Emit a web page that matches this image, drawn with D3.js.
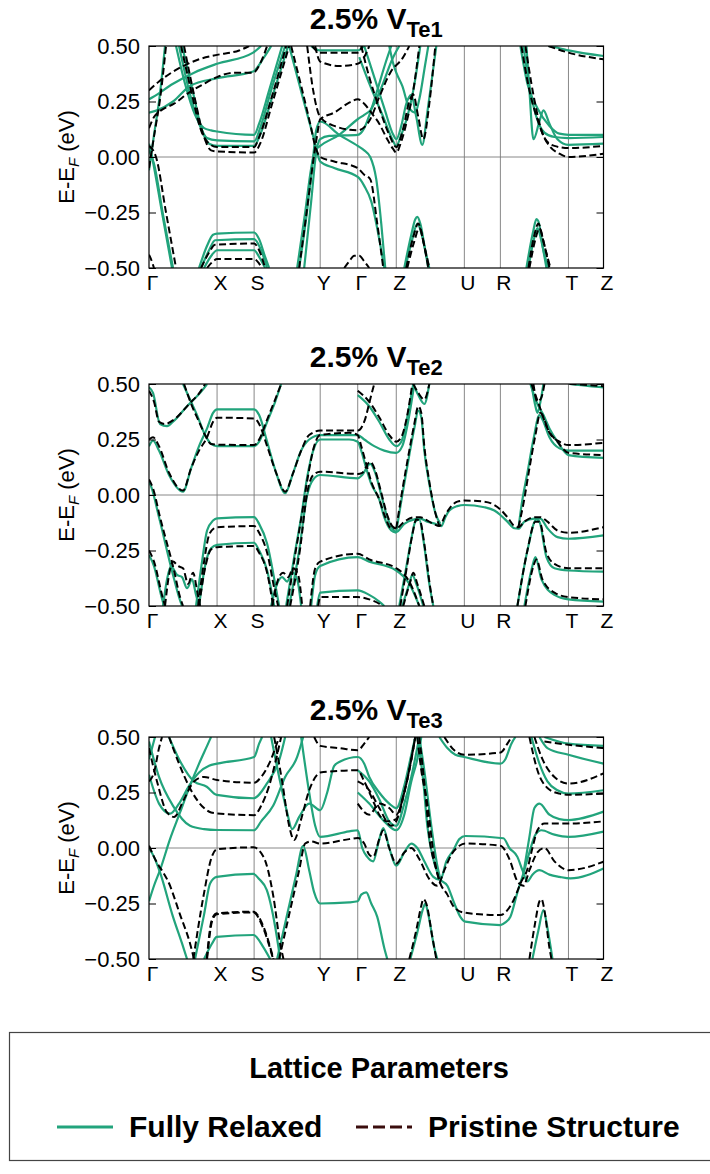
<!DOCTYPE html>
<html>
<head>
<meta charset="utf-8">
<script src="https://cdn.jsdelivr.net/npm/d3@7"></script>
<style>
  body { margin: 0; background: #fff; }
  svg { font-family: "Liberation Sans", Arial, Helvetica, sans-serif; }
</style>
</head>
<body>
<svg id="chart" width="710" height="1174"></svg>
<script>
// k-path (high symmetry points) and energy ticks
const kTicks  = [0, 0.68, 1.05, 1.71, 2.085, 2.47, 3.15, 3.51, 4.19, 4.54];
const kLabels = ["Γ", "X", "S", "Y", "Γ", "Z", "U", "R", "T", "Z"];
const eTicks  = [-0.5, -0.25, 0, 0.25, 0.5];
const panelSubs = ["Te1", "Te2", "Te3"];
const seriesNames = ["Fully Relaxed", "Pristine Structure"];

// bands: each band = [[k, E-EF], ...]
const relaxedVTe1 = [
  [[0,0.06],[0.03,0.0],[0.13,-0.25],[0.23,-0.5]],
  [[0,0.03],[0.05,-0.03],[0.14,-0.26],[0.24,-0.5]],
  [[0,-0.06],[0.05,0.1],[0.1,0.25],[0.16,0.5]],
  [[0,0.2],[0.08,0.21],[0.24,0.25],[0.41,0.32],[0.68,0.355],[1.04,0.385],[1.15,0.45],[1.22,0.5]],
  [[0,0.26],[0.04,0.27],[0.24,0.33],[0.45,0.38],[0.68,0.42],[1.04,0.47],[1.12,0.5]],
  [[0.27,0.5],[0.36,0.33],[0.46,0.19],[0.55,0.13],[0.62,0.12],[0.68,0.115],[1.05,0.1],[1.1,0.15],[1.2,0.3],[1.33,0.5]],
  [[0.3,0.5],[0.4,0.3],[0.5,0.15],[0.58,0.085],[0.68,0.075],[1.05,0.07],[1.11,0.13],[1.22,0.3],[1.36,0.5]],
  [[0.33,0.5],[0.43,0.31],[0.53,0.12],[0.6,0.06],[0.68,0.05],[1.05,0.05],[1.11,0.1],[1.23,0.27],[1.39,0.5]],
  [[0.5,-0.5],[0.58,-0.4],[0.64,-0.35],[0.68,-0.345],[1.05,-0.34],[1.1,-0.37],[1.16,-0.45],[1.2,-0.5]],
  [[0.52,-0.5],[0.6,-0.42],[0.66,-0.375],[1.05,-0.37],[1.12,-0.42],[1.18,-0.5]],
  [[0.55,-0.5],[0.63,-0.44],[0.68,-0.42],[1.05,-0.42],[1.1,-0.45],[1.16,-0.5]],
  [[1.4,0.5],[1.5,0.33],[1.6,0.16],[1.66,0.06],[1.71,-0.02],[1.85,-0.05],[2.085,-0.09],[2.15,-0.13],[2.22,-0.2],[2.3,-0.37],[2.35,-0.5]],
  [[1.48,-0.5],[1.56,-0.25],[1.62,-0.05],[1.66,0.03],[1.71,0.05],[1.9,0.1],[2.085,0.17],[2.15,0.19],[2.21,0.21],[2.31,0.3],[2.44,0.45],[2.5,0.5]],
  [[1.5,-0.5],[1.58,-0.24],[1.64,0.0],[1.67,0.12],[1.71,0.16],[1.9,0.1],[2.085,0.05],[2.15,0.03],[2.21,0.0],[2.27,-0.1],[2.32,-0.3],[2.36,-0.5]],
  [[1.55,-0.5],[1.62,-0.2],[1.67,0.02],[1.71,0.08],[1.8,0.095],[2.085,0.1],[2.15,0.13],[2.21,0.2],[2.28,0.3],[2.36,0.42],[2.42,0.5]],
  [[1.62,0.5],[1.71,0.48],[2.085,0.48],[2.15,0.5]],
  [[2.1,0.45],[2.21,0.32],[2.34,0.18],[2.43,0.08],[2.47,0.05],[2.52,0.1],[2.58,0.18],[2.64,0.3],[2.71,0.5]],
  [[2.15,0.5],[2.25,0.36],[2.35,0.22],[2.44,0.1],[2.47,0.08],[2.52,0.14],[2.57,0.24],[2.62,0.28],[2.67,0.18],[2.73,0.055],[2.78,0.2],[2.84,0.4],[2.87,0.5]],
  [[2.4,0.5],[2.44,0.42],[2.47,0.38],[2.53,0.32],[2.6,0.22],[2.66,0.2],[2.7,0.26],[2.76,0.42],[2.79,0.5]],
  [[2.55,-0.5],[2.62,-0.35],[2.66,-0.28],[2.68,-0.27],[2.71,-0.3],[2.76,-0.42],[2.8,-0.5]],
  [[2.56,-0.5],[2.63,-0.37],[2.68,-0.3],[2.73,-0.36],[2.79,-0.5]],
  [[3.77,-0.5],[3.84,-0.33],[3.87,-0.28],[3.89,-0.29],[3.94,-0.42],[3.99,-0.5]],
  [[3.79,-0.5],[3.85,-0.36],[3.88,-0.32],[3.92,-0.38],[3.97,-0.5]],
  [[3.71,0.5],[3.78,0.33],[3.88,0.22],[4.0,0.14],[4.1,0.105],[4.19,0.1],[4.54,0.1]],
  [[3.74,0.5],[3.8,0.32],[3.87,0.18],[3.95,0.11],[4.05,0.09],[4.19,0.085],[4.54,0.09]],
  [[3.77,0.5],[3.8,0.3],[3.84,0.08],[3.9,0.16],[3.94,0.21],[4.0,0.15],[4.08,0.08],[4.19,0.055],[4.54,0.06]],
  [[3.99,0.5],[4.1,0.49],[4.19,0.48],[4.54,0.455]]
];
const pristineVTe1 = [
  [[0,0.05],[0.07,0.0],[0.17,-0.25],[0.27,-0.5]],
  [[0,-0.05],[0.06,0.12],[0.11,0.26],[0.17,0.5]],
  [[0,0.13],[0.05,0.18],[0.12,0.21],[0.25,0.24],[0.4,0.29],[0.55,0.33],[0.68,0.36],[0.85,0.38],[1.04,0.38],[1.12,0.43],[1.18,0.5]],
  [[0,0.3],[0.1,0.34],[0.3,0.4],[0.5,0.44],[0.68,0.46],[0.9,0.48],[1.0,0.5]],
  [[0.32,0.5],[0.42,0.3],[0.52,0.12],[0.6,0.06],[0.68,0.045],[1.05,0.045],[1.1,0.09],[1.22,0.26],[1.37,0.5]],
  [[0.35,0.5],[0.45,0.28],[0.55,0.09],[0.62,0.03],[0.68,0.025],[1.05,0.02],[1.11,0.06],[1.23,0.24],[1.4,0.5]],
  [[0.52,-0.5],[0.6,-0.43],[0.66,-0.395],[1.05,-0.39],[1.1,-0.42],[1.16,-0.5]],
  [[0.58,-0.5],[0.64,-0.47],[0.68,-0.46],[1.05,-0.46],[1.1,-0.48],[1.13,-0.5]],
  [[1.42,0.5],[1.52,0.32],[1.61,0.15],[1.66,0.05],[1.71,0.0],[1.85,-0.02],[2.085,-0.05],[2.15,-0.08],[2.21,-0.1],[2.28,-0.3],[2.34,-0.5]],
  [[1.5,-0.5],[1.58,-0.23],[1.64,-0.02],[1.68,0.1],[1.71,0.17],[1.85,0.2],[2.0,0.245],[2.085,0.26],[2.15,0.24],[2.22,0.2],[2.3,0.15],[2.38,0.08],[2.44,0.035],[2.47,0.02],[2.52,0.07],[2.58,0.17],[2.64,0.3],[2.7,0.5]],
  [[1.58,0.5],[1.64,0.3],[1.71,0.18],[1.85,0.14],[2.085,0.12],[2.21,0.17],[2.3,0.27],[2.41,0.38],[2.54,0.45],[2.6,0.5]],
  [[1.63,0.5],[1.71,0.47],[2.085,0.47],[2.13,0.5]],
  [[1.66,0.5],[1.71,0.43],[1.9,0.41],[2.085,0.42],[2.15,0.45],[2.2,0.5]],
  [[1.95,-0.5],[2.0,-0.47],[2.05,-0.445],[2.1,-0.445],[2.15,-0.47],[2.2,-0.5]],
  [[2.12,0.5],[2.2,0.36],[2.3,0.22],[2.4,0.1],[2.47,0.045],[2.54,0.13],[2.6,0.25],[2.64,0.28],[2.69,0.18],[2.74,0.08],[2.8,0.24],[2.86,0.5]],
  [[2.57,-0.5],[2.64,-0.36],[2.69,-0.3],[2.74,-0.38],[2.79,-0.5]],
  [[2.58,-0.5],[2.65,-0.38],[2.7,-0.32],[2.76,-0.42],[2.8,-0.5]],
  [[3.79,-0.5],[3.85,-0.35],[3.89,-0.3],[3.93,-0.36],[4.0,-0.5]],
  [[3.8,-0.5],[3.86,-0.37],[3.9,-0.32],[3.95,-0.4],[4.01,-0.5]],
  [[3.72,0.5],[3.8,0.3],[3.88,0.17],[3.96,0.08],[4.05,0.05],[4.19,0.04],[4.54,0.05]],
  [[3.76,0.5],[3.84,0.28],[3.92,0.12],[4.0,0.05],[4.1,0.015],[4.19,0.0],[4.54,0.015]],
  [[3.99,0.5],[4.19,0.47],[4.54,0.44]],
  [[0,-0.44],[0.02,-0.46],[0.05,-0.5]]
];

const relaxedVTe2 = [
  [[0,0.06],[0.02,0.04],[0.1,-0.1],[0.24,-0.36],[0.3,-0.46],[0.33,-0.5]],
  [[0,-0.27],[0.05,-0.32],[0.12,-0.45],[0.15,-0.5]],
  [[0.14,-0.5],[0.18,-0.38],[0.22,-0.32],[0.28,-0.36],[0.33,-0.37],[0.38,-0.42],[0.43,-0.38],[0.47,-0.45],[0.5,-0.5]],
  [[0,0.22],[0.04,0.245],[0.1,0.2],[0.2,0.09],[0.34,0.015],[0.42,0.12],[0.5,0.22],[0.58,0.3],[0.64,0.37],[0.68,0.386],[1.05,0.386],[1.1,0.36],[1.18,0.24],[1.27,0.1],[1.36,0.008],[1.44,0.1],[1.52,0.2],[1.6,0.25],[1.71,0.27],[2.085,0.27],[2.15,0.25],[2.25,0.22],[2.35,0.2],[2.47,0.19],[2.53,0.22],[2.6,0.36],[2.65,0.5]],
  [[0.34,0.5],[0.42,0.42],[0.48,0.36],[0.55,0.28],[0.62,0.23],[0.68,0.22],[1.05,0.22],[1.1,0.24],[1.18,0.33],[1.26,0.42],[1.32,0.5]],
  [[0,0.485],[0.04,0.46],[0.11,0.32],[0.18,0.31],[0.24,0.33],[0.38,0.4],[0.53,0.47],[0.58,0.5]],
  [[0.47,-0.5],[0.53,-0.3],[0.58,-0.16],[0.64,-0.115],[0.68,-0.105],[1.05,-0.1],[1.1,-0.13],[1.18,-0.22],[1.26,-0.4],[1.3,-0.5]],
  [[0.5,-0.5],[0.56,-0.32],[0.62,-0.24],[0.68,-0.225],[1.05,-0.215],[1.1,-0.25],[1.18,-0.34],[1.25,-0.5]],
  [[1.22,-0.5],[1.28,-0.4],[1.33,-0.37],[1.38,-0.39],[1.43,-0.35],[1.48,-0.38],[1.52,-0.5]],
  [[1.4,-0.5],[1.5,-0.25],[1.58,0.0],[1.64,0.07],[1.71,0.09],[2.085,0.075],[2.13,0.09],[2.21,0.14],[2.26,0.1],[2.32,0.0],[2.38,-0.1],[2.43,-0.15],[2.47,-0.167],[2.55,-0.13],[2.65,-0.11],[2.71,-0.106],[2.78,-0.12],[2.86,-0.13],[2.92,-0.14],[2.96,-0.1],[3.0,-0.07],[3.08,-0.05],[3.15,-0.045],[3.35,-0.055],[3.45,-0.07],[3.51,-0.09],[3.58,-0.12],[3.65,-0.15],[3.69,-0.152],[3.75,-0.12],[3.85,-0.106],[3.91,-0.106],[3.98,-0.15],[4.08,-0.19],[4.19,-0.197],[4.54,-0.182]],
  [[1.37,-0.5],[1.45,-0.28],[1.52,-0.1],[1.58,0.08],[1.64,0.2],[1.71,0.25],[2.0,0.25],[2.085,0.24],[2.12,0.2],[2.17,0.12],[2.22,0.05],[2.3,-0.02],[2.35,-0.1],[2.42,-0.16],[2.47,-0.17]],
  [[2.5,-0.5],[2.56,-0.35],[2.62,-0.2],[2.66,-0.12],[2.7,-0.11],[2.74,-0.2],[2.8,-0.4],[2.84,-0.5]],
  [[2.47,-0.165],[2.53,0.0],[2.6,0.18],[2.65,0.3],[2.69,0.38],[2.72,0.35],[2.75,0.2],[2.8,0.05],[2.86,-0.08],[2.91,-0.13]],
  [[2.64,0.5],[2.69,0.45],[2.75,0.41],[2.8,0.5]],
  [[1.62,-0.5],[1.66,-0.36],[1.71,-0.32],[2.085,-0.28],[2.2,-0.3],[2.47,-0.34],[2.6,-0.4],[2.7,-0.5]],
  [[1.68,-0.5],[1.71,-0.44],[2.085,-0.43],[2.2,-0.45],[2.3,-0.48],[2.35,-0.5]],
  [[2.53,-0.5],[2.6,-0.4],[2.63,-0.36],[2.67,-0.4],[2.74,-0.5]],
  [[2.085,0.45],[2.2,0.4],[2.3,0.33],[2.4,0.25],[2.47,0.22],[2.52,0.24],[2.58,0.35],[2.62,0.45],[2.64,0.5]],
  [[3.81,0.5],[3.87,0.42],[3.94,0.36],[4.0,0.3],[4.08,0.24],[4.19,0.18],[4.54,0.167]],
  [[3.69,-0.152],[3.72,-0.05],[3.78,0.1],[3.84,0.25],[3.9,0.36],[3.93,0.34],[4.0,0.26],[4.1,0.21],[4.19,0.2],[4.54,0.2]],
  [[3.82,0.5],[3.86,0.4],[3.88,0.37],[3.91,0.42],[3.94,0.5]],
  [[3.68,-0.5],[3.78,-0.25],[3.87,-0.11],[3.9,-0.12],[3.97,-0.28],[4.05,-0.33],[4.19,-0.34],[4.54,-0.345]],
  [[3.75,-0.5],[3.83,-0.32],[3.86,-0.28],[3.92,-0.38],[4.05,-0.45],[4.19,-0.47],[4.54,-0.48]],
  [[4.2,0.5],[4.4,0.49],[4.54,0.485]]
];
const pristineVTe2 = [
  [[0,0.07],[0.04,0.03],[0.11,-0.1],[0.25,-0.34],[0.31,-0.46],[0.34,-0.5]],
  [[0,-0.25],[0.05,-0.3],[0.13,-0.45],[0.16,-0.5]],
  [[0.16,-0.5],[0.2,-0.36],[0.24,-0.3],[0.29,-0.32],[0.34,-0.33],[0.39,-0.4],[0.44,-0.35],[0.48,-0.43],[0.51,-0.5]],
  [[0,0.25],[0.04,0.26],[0.1,0.22],[0.2,0.1],[0.34,0.02],[0.42,0.12],[0.5,0.2],[0.58,0.26],[0.64,0.33],[0.68,0.348],[1.05,0.345],[1.1,0.32],[1.18,0.22],[1.27,0.1],[1.36,0.015],[1.44,0.1],[1.52,0.2],[1.6,0.27],[1.71,0.29],[2.085,0.29],[2.15,0.33],[2.22,0.45],[2.25,0.5]],
  [[0.35,0.5],[0.43,0.4],[0.5,0.33],[0.56,0.27],[0.62,0.23],[0.68,0.227],[1.05,0.225],[1.1,0.25],[1.18,0.34],[1.26,0.43],[1.32,0.5]],
  [[0,0.47],[0.05,0.42],[0.1,0.33],[0.16,0.32],[0.25,0.34],[0.4,0.41],[0.52,0.47],[0.56,0.5]],
  [[0.49,-0.5],[0.55,-0.3],[0.6,-0.18],[0.65,-0.15],[0.68,-0.145],[1.05,-0.14],[1.1,-0.17],[1.18,-0.26],[1.26,-0.44],[1.29,-0.5]],
  [[0.5,-0.5],[0.56,-0.33],[0.62,-0.245],[0.68,-0.235],[1.05,-0.23],[1.1,-0.26],[1.18,-0.35],[1.24,-0.5]],
  [[1.23,-0.5],[1.29,-0.38],[1.34,-0.35],[1.39,-0.37],[1.44,-0.33],[1.49,-0.36],[1.53,-0.5]],
  [[1.41,-0.5],[1.51,-0.24],[1.58,0.01],[1.64,0.09],[1.71,0.105],[2.085,0.095],[2.13,0.1],[2.21,0.15],[2.26,0.11],[2.32,0.01],[2.38,-0.09],[2.43,-0.14],[2.47,-0.15],[2.55,-0.12],[2.65,-0.1],[2.71,-0.1],[2.76,-0.11],[2.84,-0.13],[2.9,-0.14],[2.96,-0.09],[3.02,-0.05],[3.08,-0.03],[3.15,-0.025],[3.35,-0.03],[3.45,-0.045],[3.51,-0.065],[3.58,-0.1],[3.65,-0.14],[3.69,-0.145],[3.75,-0.12],[3.85,-0.1],[3.91,-0.1],[3.98,-0.12],[4.08,-0.16],[4.19,-0.17],[4.54,-0.145]],
  [[1.38,-0.5],[1.46,-0.27],[1.53,-0.08],[1.59,0.09],[1.65,0.22],[1.71,0.27],[2.0,0.28],[2.085,0.27],[2.12,0.22],[2.17,0.14],[2.22,0.06],[2.3,-0.02],[2.36,-0.1],[2.42,-0.15],[2.47,-0.15]],
  [[2.51,-0.5],[2.57,-0.34],[2.63,-0.18],[2.67,-0.11],[2.71,-0.12],[2.75,-0.22],[2.81,-0.42],[2.84,-0.5]],
  [[2.47,-0.15],[2.53,0.02],[2.6,0.2],[2.65,0.32],[2.69,0.4],[2.72,0.37],[2.75,0.22],[2.8,0.06],[2.86,-0.08],[2.9,-0.14]],
  [[2.64,0.5],[2.69,0.46],[2.75,0.43],[2.8,0.5]],
  [[1.61,-0.5],[1.66,-0.33],[1.71,-0.3],[2.085,-0.265],[2.2,-0.29],[2.47,-0.33],[2.6,-0.39],[2.7,-0.5]],
  [[1.69,-0.5],[1.71,-0.46],[2.085,-0.46],[2.2,-0.47],[2.3,-0.49],[2.33,-0.5]],
  [[2.54,-0.5],[2.61,-0.39],[2.64,-0.35],[2.68,-0.4],[2.75,-0.5]],
  [[2.085,0.47],[2.2,0.42],[2.3,0.35],[2.4,0.27],[2.47,0.24],[2.52,0.26],[2.58,0.36],[2.63,0.5]],
  [[3.82,0.5],[3.9,0.4],[3.98,0.3],[4.08,0.24],[4.19,0.19],[4.54,0.18]],
  [[3.69,-0.145],[3.74,-0.04],[3.8,0.12],[3.86,0.27],[3.91,0.37],[3.94,0.35],[4.0,0.28],[4.1,0.24],[4.19,0.225],[4.54,0.235]],
  [[3.84,0.5],[3.88,0.42],[3.92,0.44],[3.95,0.5]],
  [[3.68,-0.5],[3.78,-0.25],[3.86,-0.12],[3.9,-0.12],[3.97,-0.26],[4.05,-0.31],[4.19,-0.33],[4.54,-0.33]],
  [[3.76,-0.5],[3.84,-0.32],[3.87,-0.29],[3.93,-0.38],[4.05,-0.44],[4.19,-0.46],[4.54,-0.47]],
  [[4.2,0.5],[4.4,0.495],[4.54,0.49]]
];

const relaxedVTe3 = [
  [[0,0.0],[0.05,-0.04],[0.11,-0.11],[0.24,-0.31],[0.33,-0.43],[0.38,-0.5]],
  [[0,-0.24],[0.05,-0.17],[0.11,-0.1],[0.21,0.04],[0.31,0.16],[0.4,0.27],[0.5,0.38],[0.58,0.46],[0.62,0.5]],
  [[0,0.48],[0.1,0.32],[0.24,0.19],[0.41,0.1],[0.55,0.085],[0.68,0.081],[1.05,0.08],[1.12,0.12],[1.24,0.19],[1.36,0.32],[1.48,0.41],[1.54,0.5]],
  [[0,0.33],[0.1,0.2],[0.21,0.155],[0.3,0.2],[0.4,0.28],[0.5,0.34],[0.6,0.37],[0.68,0.38],[1.05,0.41],[1.1,0.47],[1.13,0.5]],
  [[0.2,0.5],[0.3,0.4],[0.45,0.3],[0.577,0.276],[0.677,0.239],[1.043,0.224],[1.177,0.29],[1.31,0.41],[1.36,0.5]],
  [[0,0.4],[0.03,0.45],[0.06,0.5]],
  [[0.46,-0.5],[0.55,-0.3],[0.61,-0.16],[0.677,-0.13],[1.043,-0.117],[1.1,-0.14],[1.177,-0.19],[1.277,-0.4],[1.31,-0.5]],
  [[0.55,-0.5],[0.63,-0.43],[0.677,-0.4],[1.043,-0.392],[1.14,-0.445],[1.21,-0.5]],
  [[1.22,0.5],[1.3,0.32],[1.38,0.16],[1.43,0.085],[1.5,0.14],[1.6,0.2],[1.71,0.17],[1.78,0.25],[1.85,0.37],[1.91,0.39],[2.085,0.41],[2.15,0.38],[2.2,0.32],[2.3,0.25],[2.4,0.2],[2.47,0.18],[2.55,0.28],[2.62,0.42],[2.66,0.5]],
  [[1.28,-0.5],[1.38,-0.3],[1.47,-0.12],[1.54,0.01],[1.6,-0.1],[1.65,-0.2],[1.71,-0.25],[2.0,-0.245],[2.085,-0.24],[2.12,-0.21],[2.17,-0.2],[2.22,-0.25],[2.28,-0.31],[2.35,-0.45],[2.38,-0.5]],
  [[1.52,0.5],[1.6,0.25],[1.66,0.1],[1.71,0.05],[2.0,0.075],[2.085,0.08],[2.13,0.0],[2.18,-0.04],[2.24,-0.06],[2.29,0.02],[2.34,0.09],[2.4,0.0],[2.47,-0.08],[2.55,-0.02],[2.62,0.02],[2.68,0.0],[2.75,-0.06],[2.84,-0.13],[2.91,-0.144],[2.97,-0.06],[3.04,-0.01],[3.1,0.04],[3.16,0.054],[3.54,0.044],[3.6,0.0],[3.68,-0.04],[3.73,-0.1],[3.78,-0.15],[3.83,-0.12],[3.9,-0.1],[4.0,-0.12],[4.1,-0.13],[4.21,-0.137],[4.54,-0.092]],
  [[2.68,0.5],[2.74,0.3],[2.78,0.1],[2.84,-0.05],[2.91,-0.14],[2.98,-0.17],[3.05,-0.25],[3.11,-0.31],[3.16,-0.332],[3.51,-0.347],[3.56,-0.335],[3.61,-0.31],[3.68,-0.2],[3.74,-0.114],[3.8,-0.02],[3.86,0.06],[3.92,0.08],[4.05,0.06],[4.19,0.05],[4.54,0.074]],
  [[3.82,0.5],[3.9,0.38],[3.98,0.3],[4.08,0.26],[4.19,0.245],[4.54,0.26]],
  [[3.74,-0.114],[3.8,0.05],[3.85,0.18],[3.9,0.2],[4.0,0.15],[4.1,0.13],[4.19,0.126],[4.54,0.164]],
  [[3.95,0.5],[4.19,0.47],[4.54,0.46]],
  [[3.9,0.5],[3.98,0.45],[4.19,0.42],[4.54,0.38]],
  [[2.9,0.5],[2.98,0.45],[3.06,0.42],[3.15,0.41],[3.51,0.38],[3.56,0.4],[3.62,0.47],[3.66,0.5]],
  [[2.085,0.25],[2.2,0.2],[2.35,0.12],[2.47,0.08],[2.55,0.15],[2.62,0.3],[2.68,0.4],[2.72,0.5]],
  [[2.085,0.35],[2.2,0.3],[2.3,0.22],[2.4,0.12],[2.47,0.1],[2.55,0.2],[2.62,0.32],[2.7,0.5]],
  [[2.7,0.5],[2.75,0.35],[2.82,0.1],[2.88,-0.08],[2.91,-0.14]],
  [[2.61,-0.5],[2.68,-0.38],[2.74,-0.27],[2.76,-0.25],[2.79,-0.3],[2.85,-0.45],[2.88,-0.5]],
  [[3.83,-0.5],[3.89,-0.37],[3.94,-0.28],[3.98,-0.36],[4.03,-0.5]]
];
const pristineVTe3 = [
  [[0,0.01],[0.05,-0.04],[0.21,-0.17],[0.31,-0.3],[0.41,-0.43],[0.45,-0.5]],
  [[0,0.45],[0.08,0.3],[0.18,0.16],[0.25,0.14],[0.35,0.22],[0.45,0.3],[0.55,0.32],[0.68,0.306],[1.05,0.294],[1.12,0.32],[1.2,0.38],[1.3,0.5]],
  [[0.2,0.5],[0.3,0.38],[0.42,0.26],[0.55,0.18],[0.62,0.16],[0.68,0.156],[1.05,0.148],[1.12,0.19],[1.2,0.28],[1.28,0.42],[1.32,0.5]],
  [[0,0.3],[0.05,0.34],[0.1,0.45],[0.13,0.5]],
  [[0.443,-0.5],[0.543,-0.22],[0.627,-0.04],[0.677,-0.006],[1.043,0.003],[1.143,-0.039],[1.243,-0.22],[1.31,-0.43],[1.343,-0.5]],
  [[0.577,-0.5],[0.627,-0.324],[0.677,-0.294],[1.043,-0.287],[1.143,-0.354],[1.243,-0.5]],
  [[0.58,-0.5],[0.63,-0.33],[0.677,-0.298],[1.043,-0.29],[1.14,-0.36],[1.24,-0.5]],
  [[1.25,0.5],[1.33,0.3],[1.4,0.1],[1.45,0.036],[1.52,0.13],[1.6,0.26],[1.68,0.33],[1.71,0.34],[2.085,0.35],[2.15,0.3],[2.25,0.2],[2.3,0.15],[2.38,0.12],[2.47,0.13],[2.55,0.25],[2.62,0.4],[2.66,0.5]],
  [[1.65,0.5],[1.71,0.46],[1.9,0.45],[2.085,0.44],[2.15,0.47],[2.2,0.5]],
  [[1.3,-0.5],[1.4,-0.3],[1.5,-0.1],[1.56,0.02],[1.62,0.03],[1.71,0.02],[2.0,0.04],[2.085,0.045],[2.15,0.02],[2.2,-0.03],[2.24,-0.04],[2.3,0.04],[2.34,0.08],[2.4,0.0],[2.47,-0.07],[2.55,-0.02],[2.62,0.0],[2.7,-0.05],[2.8,-0.14],[2.88,-0.17],[2.95,-0.1],[3.02,-0.03],[3.1,0.01],[3.16,0.02],[3.51,0.01],[3.6,-0.05],[3.68,-0.15],[3.74,-0.17],[3.8,-0.1],[3.88,-0.02],[3.95,0.0],[4.05,-0.06],[4.19,-0.1],[4.54,-0.062]],
  [[2.7,0.5],[2.76,0.25],[2.8,0.05],[2.86,-0.08],[2.91,-0.159],[2.98,-0.21],[3.043,-0.264],[3.143,-0.291],[3.51,-0.302],[3.58,-0.28],[3.643,-0.234],[3.72,-0.15],[3.777,-0.099],[3.83,0.0],[3.88,0.08],[3.95,0.11],[4.08,0.11],[4.19,0.11],[4.54,0.12]],
  [[3.85,0.5],[3.93,0.4],[4.05,0.32],[4.19,0.29],[4.54,0.336]],
  [[3.8,0.5],[3.88,0.35],[3.98,0.27],[4.1,0.245],[4.19,0.24],[4.54,0.245]],
  [[3.95,0.48],[4.19,0.465],[4.54,0.45]],
  [[2.95,0.5],[3.05,0.44],[3.15,0.42],[3.51,0.43],[3.58,0.47],[3.62,0.5]],
  [[2.085,0.3],[2.2,0.26],[2.3,0.18],[2.42,0.1],[2.47,0.12],[2.52,0.2],[2.6,0.35],[2.66,0.5]],
  [[2.085,0.2],[2.2,0.15],[2.3,0.2],[2.4,0.18],[2.47,0.15],[2.55,0.25],[2.62,0.4],[2.66,0.5]],
  [[2.68,0.5],[2.72,0.35],[2.78,0.2],[2.85,-0.05],[2.91,-0.16]],
  [[2.6,-0.5],[2.67,-0.37],[2.72,-0.26],[2.74,-0.23],[2.77,-0.25],[2.83,-0.4],[2.87,-0.5]],
  [[3.8,-0.5],[3.86,-0.33],[3.9,-0.24],[3.92,-0.23],[3.95,-0.28],[4.0,-0.45],[4.02,-0.5]]
];

const panels = [
  { sub: panelSubs[0], relaxed: relaxedVTe1, pristine: pristineVTe1 },
  { sub: panelSubs[1], relaxed: relaxedVTe2, pristine: pristineVTe2 },
  { sub: panelSubs[2], relaxed: relaxedVTe3, pristine: pristineVTe3 }
];

const green = '#22a47c';
const plotLeft = 149, plotRight = 603.5, plotH = 222;
const panelTops = [46, 384, 737];
const svg = d3.select('#chart');
const x = d3.scaleLinear().domain([kTicks[0], kTicks[kTicks.length - 1]]).range([plotLeft, plotRight]);

panels.forEach((p, i) => {
  const top = panelTops[i];
  const y = d3.scaleLinear().domain([-0.5, 0.5]).range([top + plotH, top]);
  const g = svg.append('g');

  svg.append('clipPath').attr('id', 'clip' + i).append('rect')
    .attr('x', plotLeft).attr('y', top)
    .attr('width', plotRight - plotLeft).attr('height', plotH);

  // k-point lines and Fermi level
  g.selectAll('line.kline').data(kTicks.slice(1, -1)).join('line')
    .attr('class', 'kline')
    .attr('x1', d => x(d)).attr('x2', d => x(d))
    .attr('y1', top).attr('y2', top + plotH)
    .attr('stroke', '#7a7a7a').attr('stroke-width', 0.9);
  g.append('line')
    .attr('x1', plotLeft).attr('x2', plotRight)
    .attr('y1', y(0)).attr('y2', y(0))
    .attr('stroke', '#7a7a7a').attr('stroke-width', 0.9);

  const line = d3.line().x(d => x(d[0])).y(d => y(d[1])).curve(d3.curveMonotoneX);
  const plot = g.append('g').attr('clip-path', `url(#clip${i})`);
  plot.selectAll('path.relaxed').data(p.relaxed).join('path')
    .attr('class', 'relaxed').attr('d', line)
    .attr('fill', 'none').attr('stroke', green).attr('stroke-width', 2.2)
    .attr('stroke-linejoin', 'round');
  plot.selectAll('path.pristine').data(p.pristine).join('path')
    .attr('class', 'pristine').attr('d', line)
    .attr('fill', 'none').attr('stroke', '#000').attr('stroke-width', 2)
    .attr('stroke-dasharray', '7,3.5');

  // axes
  g.append('g').attr('transform', `translate(${plotLeft},0)`)
    .call(d3.axisLeft(y).tickValues(eTicks).tickFormat(d3.format('.2f'))
      .tickSizeInner(-7).tickSizeOuter(0).tickPadding(9))
    .attr('font-family', null).attr('font-size', 22)
    .call(a => a.select('.domain').remove());
  g.append('g').attr('transform', `translate(${plotRight},0)`)
    .call(d3.axisRight(y).tickValues(eTicks).tickFormat('').tickSizeInner(-7).tickSizeOuter(0))
    .call(a => a.select('.domain').remove());
  g.append('g').attr('transform', `translate(0,${top + plotH})`)
    .call(d3.axisBottom(x).tickValues(kTicks).tickFormat((d, j) => kLabels[j])
      .tickSize(0).tickPadding(7))
    .attr('font-family', null).attr('font-size', 21)
    .call(a => a.select('.domain').remove())
    .call(a => a.selectAll('text').attr('dx', 3));

  g.append('rect')
    .attr('x', plotLeft).attr('y', top)
    .attr('width', plotRight - plotLeft).attr('height', plotH)
    .attr('fill', 'none').attr('stroke', '#000').attr('stroke-width', 1.2);

  // title
  const t = g.append('text')
    .attr('x', (plotLeft + plotRight) / 2).attr('y', top - 17)
    .attr('text-anchor', 'middle').attr('font-weight', 'bold').attr('font-size', 30);
  t.append('tspan').text('2.5% V');
  t.append('tspan').attr('font-size', 22).attr('dy', 8).text(p.sub);

  // y label
  const yl = g.append('text')
    .attr('transform', `translate(74,${top + plotH / 2}) rotate(-90)`)
    .attr('text-anchor', 'middle').attr('font-size', 22);
  yl.append('tspan').text('E-E');
  yl.append('tspan').attr('font-size', 15).attr('font-style', 'italic').attr('dy', 5).text('F');
  yl.append('tspan').attr('dy', -5).text(' (eV)');
});

// legend
const lg = svg.append('g');
lg.append('rect')
  .attr('x', 9.5).attr('y', 1032.5).attr('width', 720).attr('height', 128)
  .attr('fill', '#fff').attr('stroke', '#444').attr('stroke-width', 1.2);
lg.append('text')
  .attr('x', 379).attr('y', 1078).attr('text-anchor', 'middle')
  .attr('font-weight', 'bold').attr('font-size', 29).text('Lattice Parameters');
lg.append('line')
  .attr('x1', 57).attr('x2', 113).attr('y1', 1127).attr('y2', 1127)
  .attr('stroke', green).attr('stroke-width', 3);
lg.append('text')
  .attr('x', 129).attr('y', 1137).attr('font-weight', 'bold').attr('font-size', 30)
  .text(seriesNames[0]);
lg.append('line')
  .attr('x1', 356).attr('x2', 412).attr('y1', 1127).attr('y2', 1127)
  .attr('stroke', '#3a0d0d').attr('stroke-width', 3).attr('stroke-dasharray', '12,5');
lg.append('text')
  .attr('x', 428).attr('y', 1137).attr('font-weight', 'bold').attr('font-size', 30)
  .text(seriesNames[1]);
</script>
</body>
</html>
